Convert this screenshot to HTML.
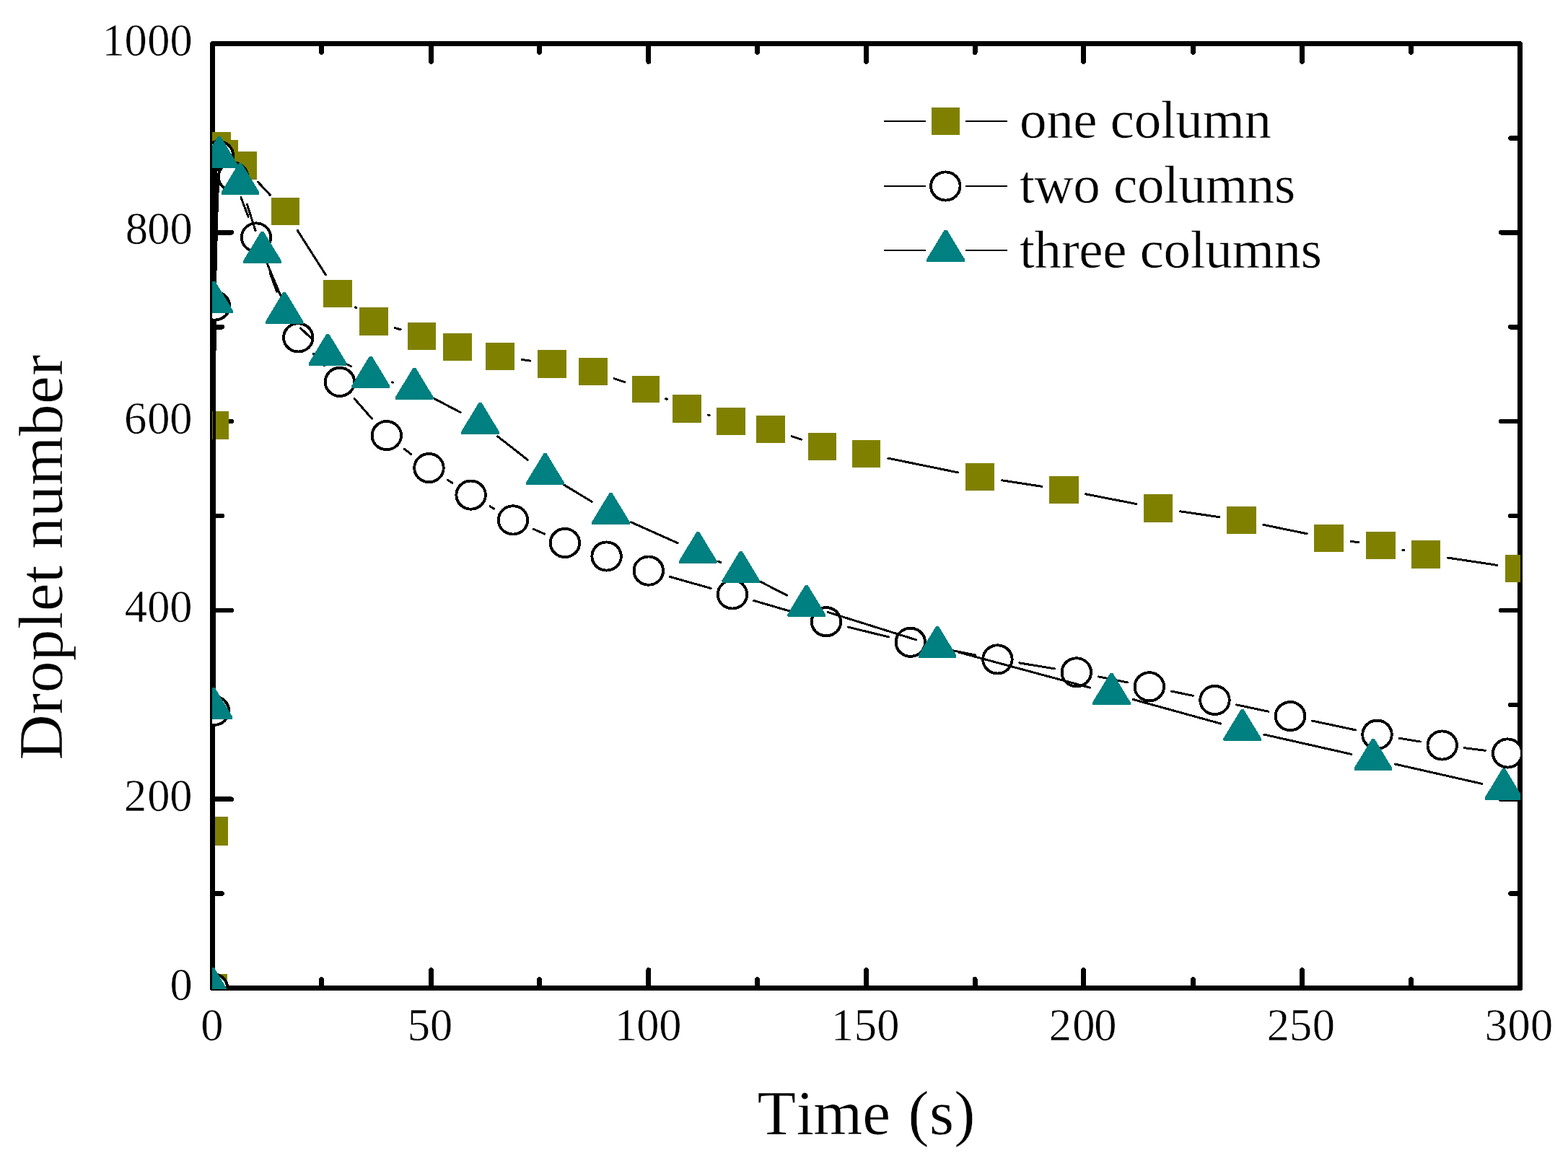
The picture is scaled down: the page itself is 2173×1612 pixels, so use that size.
<!DOCTYPE html>
<html lang="en">
<head>
<meta charset="utf-8">
<title>Droplet number vs. time</title>
<style>
html,body{margin:0;padding:0;background:#fff;}
body{width:2173px;height:1612px;overflow:hidden;}
svg{display:block;}
text{font-family:"Liberation Serif",serif;fill:#000;stroke:#fff;stroke-width:0.5px;font-kerning:none;font-variant-ligatures:none;}
.tk{font-size:62.5px;}
.ti{font-size:87.5px;}
.ty{letter-spacing:0.42px;}
.lg{font-size:75px;letter-spacing:-0.33px;}
</style>
</head>
<body>
<svg role="img" aria-label="Droplet number versus time for one, two and three columns" width="2173" height="1612" viewBox="0 0 2173 1612">
<rect x="0" y="0" width="2173" height="1612" fill="#fff"/>
<defs><clipPath id="plot"><rect x="294" y="60" width="1813" height="1311"/></clipPath></defs>
<g id="axes" fill="none" stroke="#000" shape-rendering="crispEdges">
<rect x="294.5" y="60.5" width="1812" height="1309" stroke-width="7" stroke-linejoin="round"/>
<path d="M445.5 1369.5v-12.2M445.5 60.5v12.2M597.5 1369.5v-25.1M597.5 60.5v25.1M747.5 1369.5v-12.2M747.5 60.5v12.2M898.7 1369.5v-25.1M898.7 60.5v25.1M1049.5 1369.5v-12.2M1049.5 60.5v12.2M1200.5 1369.5v-25.1M1200.5 60.5v25.1M1351.2 1369.5v-12.2M1351.2 60.5v12.2M1501.5 1369.5v-25.1M1501.5 60.5v25.1M1653.5 1369.5v-12.2M1653.5 60.5v12.2M1804.5 1369.5v-25.1M1804.5 60.5v25.1M1955.5 1369.5v-12.2M1955.5 60.5v12.2M294.5 1238.6h13.1M2106.5 1238.6h-13.1M294.5 1107.7h26.2M2106.5 1107.7h-26.2M294.5 976.8h13.1M2106.5 976.8h-13.1M294.5 845.9h26.2M2106.5 845.9h-26.2M294.5 715h13.1M2106.5 715h-13.1M294.5 584.1h26.2M2106.5 584.1h-26.2M294.5 453.2h13.1M2106.5 453.2h-13.1M294.5 322.3h26.2M2106.5 322.3h-26.2M294.5 191.4h13.1M2106.5 191.4h-13.1" stroke-width="6.6" stroke-linecap="round"/>
</g>
<g id="data" clip-path="url(#plot)" shape-rendering="crispEdges">
<g id="s1"><path d="M295.64 1338.6L296.36 1182.9M296.54 1121.1L297.26 620.3M297.52 558.5L299.78 233.4M357.37 252.1L374.43 270.4M412.08 319.07L451.42 380.93M492.51 425.82L493.49 426.58M547.53 454.49L555.07 456.81M723.58 498.47L734.32 500.03M851.3 524.81L865.6 529.59M922.81 552.67L924.19 553.33M981.81 575.09L983.29 575.51M1097.3 604.82L1110.3 609.18M1230.88 635.17L1327.72 654.93M1388.54 665.79L1443.96 674.31M1504.83 684.9L1574.67 698.5M1635.58 708.82L1689.92 716.68M1750.77 727.33L1811.23 739.77M1872.1 750.29L1883 751.81M1943.91 762.12L1945.69 762.48M2006.56 773.1L2074.94 783.4" fill="none" stroke="#000" stroke-width="3.0" stroke-linecap="round"/><g fill="#808000"><rect x="275" y="1350" width="40" height="38"/><rect x="276" y="1132" width="40" height="40"/><rect x="277" y="570" width="40" height="39"/><rect x="280" y="183" width="40" height="38"/><rect x="290" y="194" width="40" height="38"/><rect x="316" y="210" width="40" height="39"/><rect x="376" y="274" width="39" height="38"/><rect x="448" y="388" width="40" height="38"/><rect x="498" y="426" width="40" height="39"/><rect x="565" y="447" width="39" height="38"/><rect x="614" y="462" width="40" height="38"/><rect x="673" y="475" width="40" height="38"/><rect x="745" y="485" width="40" height="39"/><rect x="802" y="496" width="40" height="38"/><rect x="876" y="521" width="38" height="37"/><rect x="932" y="547" width="40" height="39"/><rect x="993" y="565" width="40" height="38"/><rect x="1048" y="576" width="40" height="38"/><rect x="1120" y="600" width="39" height="38"/><rect x="1181" y="610" width="39" height="38"/><rect x="1338" y="642" width="40" height="38"/><rect x="1454" y="660" width="41" height="38"/><rect x="1585" y="685" width="40" height="39"/><rect x="1700" y="702" width="41" height="38"/><rect x="1821" y="727" width="41" height="38"/><rect x="1893" y="737" width="41" height="38"/><rect x="1956" y="749" width="40" height="39"/><rect x="2086" y="769" width="40" height="38"/></g></g>
<g id="s2"><path d="M295.16 1338.6L296.84 1016.1M297.04 954.3L297.76 454.9M298.56 393.11L302.14 246.49M334 273.88L344 300.12M366.96 357.49L401.34 439.41M434.42 490.45L449.78 506.85M491.24 552.66L515.46 580.34M560.32 622.4L569.98 629.8M620.46 665.36L626.64 669.34M679.14 701.92L684.46 705.08M739.29 733.33L754.61 740.07M928.54 799.49L985.26 815.51M1044.67 832.53L1115.33 853.07M1175.01 869.05L1231.79 882.95M1292.12 896.23L1352.08 907.97M1412.89 918.92L1461.31 926.88M1522.12 937.87L1562.48 945.83M1623.06 958.04L1653.24 964.26M1713.73 976.89L1757.77 986.21M1818.23 999.02L1878.27 1011.78M1938.99 1023.2L1968.21 1028M2029.37 1036.73L2058.53 1040.27" fill="none" stroke="#000" stroke-width="3.0" stroke-linecap="round"/><g fill="#fff" stroke="#000" stroke-width="3.9"><ellipse cx="295" cy="1369.5" rx="20.25" ry="19.6"/><ellipse cx="297" cy="985.2" rx="20.25" ry="19.6"/><ellipse cx="297.8" cy="424" rx="20.25" ry="19.6"/><ellipse cx="302.9" cy="215.6" rx="20.25" ry="19.6"/><ellipse cx="323" cy="245" rx="20.25" ry="19.6"/><ellipse cx="355" cy="329" rx="20.25" ry="19.6"/><ellipse cx="413.3" cy="467.9" rx="20.25" ry="19.6"/><ellipse cx="470.9" cy="529.4" rx="20.25" ry="19.6"/><ellipse cx="535.8" cy="603.6" rx="20.25" ry="19.6"/><ellipse cx="594.5" cy="648.6" rx="20.25" ry="19.6"/><ellipse cx="652.6" cy="686.1" rx="20.25" ry="19.6"/><ellipse cx="711" cy="720.9" rx="20.25" ry="19.6"/><ellipse cx="782.9" cy="752.5" rx="20.25" ry="19.6"/><ellipse cx="840.6" cy="771" rx="20.25" ry="19.6"/><ellipse cx="898.8" cy="791.1" rx="20.25" ry="19.6"/><ellipse cx="1015" cy="823.9" rx="20.25" ry="19.6"/><ellipse cx="1145" cy="861.7" rx="20.25" ry="19.6"/><ellipse cx="1261.8" cy="890.3" rx="20.25" ry="19.6"/><ellipse cx="1382.4" cy="913.9" rx="20.25" ry="19.6"/><ellipse cx="1491.8" cy="931.9" rx="20.25" ry="19.6"/><ellipse cx="1592.8" cy="951.8" rx="20.25" ry="19.6"/><ellipse cx="1683.5" cy="970.5" rx="20.25" ry="19.6"/><ellipse cx="1788" cy="992.6" rx="20.25" ry="19.6"/><ellipse cx="1908.5" cy="1018.2" rx="20.25" ry="19.6"/><ellipse cx="1998.7" cy="1033" rx="20.25" ry="19.6"/><ellipse cx="2089.2" cy="1044" rx="20.25" ry="19.6"/></g></g>
<g id="s3"><path d="M295.07 1338.6L295.83 1012.2M295.93 950.4L296.37 448.9M297.55 387.12L302.75 247.88M342.45 283.42L354.05 319.58M374.07 378.03L383.63 404.27M416.47 454.72L431.93 469.58M481.61 505.26L486.39 507.74M543.67 529.9L544.43 530.1M601.64 552.39L638.16 571.61M689.85 605.02L731.15 637.28M781.96 672.26L820.04 695.24M874.7 723.83L939.1 752.67M995.44 778.07L998.66 779.53M1054.26 806.47L1090.24 825.03M1147.18 848.45L1269.52 886.85M1328.83 904.15L1510.57 953.15M1570.18 969.43L1691.92 1003.07M1751.84 1018.1L1872.86 1045.4M1933.14 1059.03L2053.86 1086.37" fill="none" stroke="#000" stroke-width="3.0" stroke-linecap="round"/><g fill="#008080"><polygon points="293.1,1341.4 296.9,1341.4 321.4,1381.9 321.1,1385.4 268.9,1385.4 268.6,1381.9"/><polygon points="294,953.2 297.8,953.2 322.3,993.7 322,997.2 269.8,997.2 269.5,993.7"/><polygon points="294.5,389.9 298.3,389.9 322.8,430.4 322.5,433.9 270.3,433.9 270,430.4"/><polygon points="302,188.9 305.8,188.9 330.3,229.4 330,232.9 277.8,232.9 277.5,229.4"/><polygon points="331.1,225.9 334.9,225.9 359.4,266.4 359.1,269.9 306.9,269.9 306.6,266.4"/><polygon points="361.6,320.9 365.4,320.9 389.9,361.4 389.6,364.9 337.4,364.9 337.1,361.4"/><polygon points="392.3,405.2 396.1,405.2 420.6,445.7 420.3,449.2 368.1,449.2 367.8,445.7"/><polygon points="452.3,462.9 456.1,462.9 480.6,503.4 480.3,506.9 428.1,506.9 427.8,503.4"/><polygon points="511.9,493.9 515.7,493.9 540.2,534.4 539.9,537.9 487.7,537.9 487.4,534.4"/><polygon points="572.4,509.9 576.2,509.9 600.7,550.4 600.4,553.9 548.2,553.9 547.9,550.4"/><polygon points="663.6,557.9 667.4,557.9 691.9,598.4 691.6,601.9 639.4,601.9 639.1,598.4"/><polygon points="753.6,628.2 757.4,628.2 781.9,668.7 781.6,672.2 729.4,672.2 729.1,668.7"/><polygon points="844.6,683.1 848.4,683.1 872.9,723.6 872.6,727.1 820.4,727.1 820.1,723.6"/><polygon points="965.4,737.2 969.2,737.2 993.7,777.7 993.4,781.2 941.2,781.2 940.9,777.7"/><polygon points="1024.9,764.2 1028.7,764.2 1053.2,804.7 1052.9,808.2 1000.7,808.2 1000.4,804.7"/><polygon points="1115.8,811.1 1119.6,811.1 1144.1,851.6 1143.8,855.1 1091.6,855.1 1091.3,851.6"/><polygon points="1297.1,868 1300.9,868 1325.4,908.5 1325.1,912 1272.9,912 1272.6,908.5"/><polygon points="1538.5,933.1 1542.3,933.1 1566.8,973.6 1566.5,977.1 1514.3,977.1 1514,973.6"/><polygon points="1719.8,983.2 1723.6,983.2 1748.1,1023.7 1747.8,1027.2 1695.6,1027.2 1695.3,1023.7"/><polygon points="1901.1,1024.1 1904.9,1024.1 1929.4,1064.6 1929.1,1068.1 1876.9,1068.1 1876.6,1064.6"/><polygon points="2082.1,1065.1 2085.9,1065.1 2110.4,1105.6 2110.1,1109.1 2057.9,1109.1 2057.6,1105.6"/></g></g>
</g>
<g id="legend" shape-rendering="crispEdges">
<path d="M1225 167.9H1283M1338 167.9H1396M1225 258H1283M1338 258H1396M1225 346.9H1283M1338 346.9H1396" fill="none" stroke="#000" stroke-width="2.4"/>
<g fill="#808000"><rect x="1290.55" y="148.7" width="39.5" height="38.4"/></g>
<g fill="#fff" stroke="#000" stroke-width="3.9"><ellipse cx="1310.3" cy="258" rx="20.25" ry="19.6"/></g>
<g fill="#008080"><polygon points="1308.7,318.8 1312.5,318.8 1337,359.3 1336.7,362.8 1284.5,362.8 1284.2,359.3"/></g>
<text class="lg" x="1413" y="191">one column</text>
<text class="lg" x="1413" y="280.7">two columns</text>
<text class="lg" x="1413" y="370.8">three columns</text>
</g>
<g id="xlabels">
<text class="tk" x="278.3" y="1441.5">0</text>
<text class="tk" x="564.8 596" y="1441.5">50</text>
<text class="tk" x="851.8 882.3 913.2" y="1441.5">100</text>
<text class="tk" x="1151.8 1183.7 1215.2" y="1441.5">150</text>
<text class="tk" x="1453.8 1486.2 1516.3" y="1441.5">200</text>
<text class="tk" x="1755.8 1787 1818.8" y="1441.5">250</text>
<text class="tk" x="2057.7 2089.5 2121" y="1441.5">300</text>
</g>
<g id="ylabels">
<text class="tk" x="141.6 172.4 204.2 235.6" y="76.9">1000</text>
<text class="tk" x="173.8 204.2 235.6" y="337.9">800</text>
<text class="tk" x="171.9 204.2 235.3" y="600.6">600</text>
<text class="tk" x="172.8 204.2 235.3" y="861.5">400</text>
<text class="tk" x="172 204.2 235.3" y="1124.3">200</text>
<text class="tk" x="235.4" y="1385.7">0</text>
</g>
<text class="ti" x="1049.6 1103.8 1127.2 1195.2 1234 1258.5 1288.1 1322.2" y="1572">Time (s)</text>
<text class="ti ty" transform="translate(86 1053.5) rotate(-90)" x="0" y="0">Droplet number</text>
</svg>
</body>
</html>
